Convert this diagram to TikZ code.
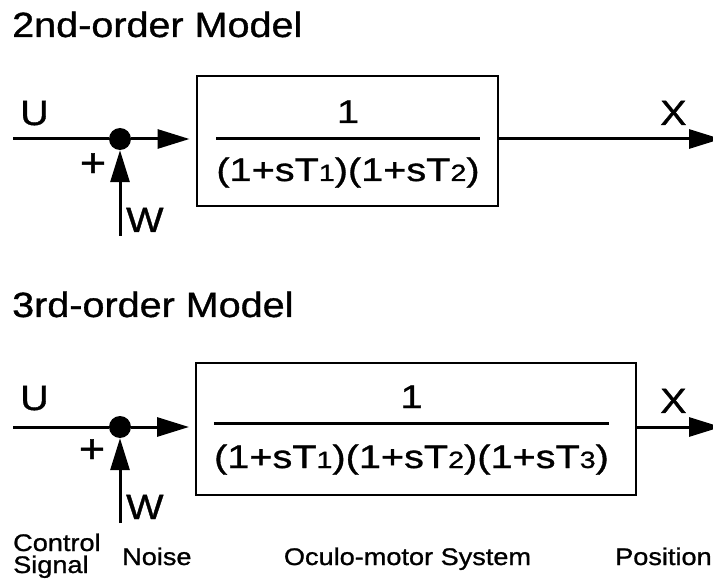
\documentclass[tikz,border=0pt]{standalone}
\usepackage{fontspec}
\setmainfont[FakeStretch=1.13,FakeBold=1]{Liberation Sans}
\newfontfamily\fracfont[FakeStretch=1.22,FakeBold=1]{Liberation Sans}
\usetikzlibrary{arrows.meta,calc}
\newcommand{\sbt}[1]{{\fontsize{23.5}{24}\selectfont #1}}
\begin{document}
\begin{tikzpicture}[x=1pt,y=-1pt,
  conn/.style={line width=3pt},
  arr/.style={conn,-{Triangle[length=32pt,width=19pt]}},
  blk/.style={draw,line width=2pt,inner sep=0pt},
  sumdot/.style={circle,fill,inner sep=0pt,minimum size=22pt},
  lbl/.style={inner sep=0pt,font=\fontsize{35}{40}\selectfont},
  plus/.style={inner sep=0pt,font=\fontsize{40}{44}\selectfont},
  small/.style={inner sep=0pt,font=\fontsize{24}{22}\selectfont},
  fr/.style={inner sep=0pt,font=\fracfont\fontsize{32.5}{36}\selectfont},
  fbar/.style={line width=3pt}]
\useasboundingbox (0,0) rectangle (713,588);

% ---------- 2nd-order model ----------
\node[lbl,anchor=base west] (t1) at (12,37) {2nd-order Model};
\node[blk,minimum width=301pt,minimum height=130pt] (b1) at (347,141.5) {};
\node[sumdot] (s1) at (120,139) {};
\coordinate (u1) at (13,139);
\coordinate (w1) at (120,236);
\coordinate (x1) at (721,139);
\draw[conn] (u1) -- (s1);
\draw[arr,shorten >=6pt] (s1) -- (s1 -| b1.west);
\draw[arr] (w1) -- (s1);
\draw[arr] (s1 -| b1.east) -- (x1);
\node[lbl,anchor=base west] (U1) at (20,125) {U};
\node[lbl,anchor=base west] (W1) at (126,232) {W};
\node[lbl,anchor=base west] (X1) at (660,125) {X};
\node[plus] (p1) at (93,165) {+};
\node[fr,anchor=base] (n1) at (348,123) {1};
\node[fr,anchor=base] (d1) at (348,181) {(1+sT\sbt{1})(1+sT\sbt{2})};
\coordinate (fb1) at (348,139);
\draw[fbar] (fb1 -| d1.west) -- (fb1 -| d1.east);

% ---------- 3rd-order model ----------
\node[lbl,anchor=base west] (t2) at (12,317) {3rd-order Model};
\node[blk,minimum width=440pt,minimum height=132pt] (b2) at (416,429) {};
\node[sumdot] (s2) at (120,427) {};
\coordinate (u2) at (13,427);
\coordinate (w2) at (120,523);
\coordinate (x2) at (721,427);
\draw[conn] (u2) -- (s2);
\draw[arr,shorten >=6pt] (s2) -- (s2 -| b2.west);
\draw[arr] (w2) -- (s2);
\draw[arr] (s2 -| b2.east) -- (x2);
\node[lbl,anchor=base west] (U2) at (20,410) {U};
\node[lbl,anchor=base west] (W2) at (126,519) {W};
\node[lbl,anchor=base west] (X2) at (660,413) {X};
\node[plus] (p2) at (92,451) {+};
\node[fr,anchor=base] (n2) at (411.5,408) {1};
\node[fr,anchor=base] (d2) at (411.5,468) {(1+sT\sbt{1})(1+sT\sbt{2})(1+sT\sbt{3})};
\coordinate (fb2) at (411.5,423);
\draw[fbar] (fb2 -| d2.west) -- (fb2 -| d2.east);

% ---------- bottom captions ----------
\node[small,anchor=base west] (cs1) at (13,551) {Control};
\node[small,anchor=base west] (cs2) at (13,573) {Signal};
\node[small,anchor=base west] (ns) at (122,565) {Noise};
\node[small,anchor=base] (os) at (407.5,565) {Oculo-motor System};
\node[small,anchor=base west] (ps) at (615,565) {Position};
\end{tikzpicture}
\end{document}
